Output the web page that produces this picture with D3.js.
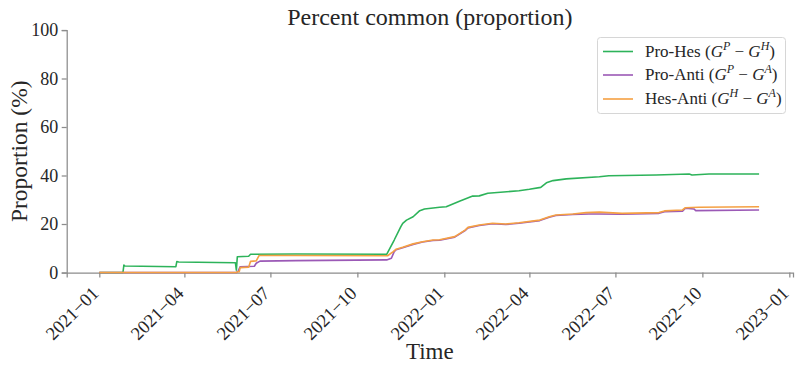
<!DOCTYPE html>
<html>
<head>
<meta charset="utf-8">
<script src="https://cdn.jsdelivr.net/npm/d3@7"></script>
<style>
  html, body { margin: 0; padding: 0; background: #fff; }
  svg { display: block; }
  svg text { font-family: "Liberation Serif", "DejaVu Serif", serif !important; fill: #262626; }
</style>
</head>
<body>
<svg id="chart" width="800" height="370"></svg>
<script>
// ---- data ----
const seriesNames = ["Pro-Hes", "Pro-Anti", "Hes-Anti"];
const seriesSup = [["P", "H"], ["P", "A"], ["H", "A"]];
const seriesColors = ["#2db35a", "#9b59b6", "#f5a043"];

const proHes = [
  ["2021-01-01", 0], ["2021-01-26", 0], ["2021-01-27", 3.1], ["2021-01-28", 2.7],
  ["2021-03-23", 2.4], ["2021-03-24", 4.5], ["2021-03-26", 4.3], ["2021-05-25", 4.0],
  ["2021-05-26", 1.0], ["2021-05-27", 6.5], ["2021-06-08", 6.7], ["2021-06-10", 7.5],
  ["2021-07-28", 7.6], ["2021-11-01", 7.5], ["2021-11-09", 13.4], ["2021-11-16", 18.9],
  ["2021-11-18", 20.3], ["2021-11-22", 21.6], ["2021-11-29", 23.0], ["2021-12-06", 25.5],
  ["2021-12-11", 26.2], ["2021-12-27", 26.9], ["2022-01-03", 27.1], ["2022-01-17", 29.4],
  ["2022-01-31", 31.5], ["2022-02-07", 31.6], ["2022-02-16", 32.7], ["2022-03-21", 33.7],
  ["2022-04-01", 34.3], ["2022-04-13", 35.1], ["2022-04-19", 37.0], ["2022-04-26", 37.9],
  ["2022-05-10", 38.6], ["2022-06-14", 39.5], ["2022-06-24", 39.9], ["2022-08-13", 40.2],
  ["2022-09-17", 40.6], ["2022-09-20", 40.2], ["2022-10-08", 40.6], ["2022-11-30", 40.6]
];
const proAnti = [
  ["2021-01-01", 0], ["2021-05-26", 0], ["2021-05-28", 0.6], ["2021-05-30", 2.4],
  ["2021-06-14", 2.6], ["2021-06-16", 3.8], ["2021-06-20", 4.7], ["2021-07-28", 4.9],
  ["2021-11-01", 5.2], ["2021-11-06", 5.9], ["2021-11-09", 8.6], ["2021-11-11", 9.4],
  ["2021-11-18", 10.2], ["2021-11-29", 11.6], ["2021-12-09", 12.6], ["2021-12-20", 13.2],
  ["2021-12-27", 13.3], ["2022-01-12", 14.6], ["2022-01-23", 17.3], ["2022-01-26", 18.4],
  ["2022-02-07", 19.4], ["2022-02-21", 20.1], ["2022-03-07", 19.8], ["2022-03-21", 20.3],
  ["2022-04-12", 21.4], ["2022-04-22", 22.8], ["2022-04-29", 23.5], ["2022-05-17", 23.9],
  ["2022-06-03", 24.1], ["2022-06-14", 24.1], ["2022-07-08", 24.0], ["2022-08-16", 24.4],
  ["2022-08-22", 25.1], ["2022-09-10", 25.3], ["2022-09-13", 26.5], ["2022-09-22", 26.2],
  ["2022-09-24", 25.5], ["2022-11-30", 25.8]
];
const hesAnti = [
  ["2021-01-01", 0], ["2021-05-26", 0], ["2021-05-27", 0.3], ["2021-05-29", 0.3],
  ["2021-05-30", 2.0], ["2021-06-08", 2.2], ["2021-06-10", 4.6], ["2021-06-16", 4.8],
  ["2021-06-19", 7.0], ["2021-07-28", 7.0], ["2021-11-01", 6.9], ["2021-11-02", 6.9],
  ["2021-11-08", 8.6], ["2021-11-11", 9.6], ["2021-11-18", 10.4], ["2021-11-29", 11.8],
  ["2021-12-09", 12.7], ["2021-12-20", 13.4], ["2021-12-27", 13.5], ["2022-01-12", 14.8],
  ["2022-01-23", 17.5], ["2022-01-26", 18.6], ["2022-02-07", 19.6], ["2022-02-21", 20.3],
  ["2022-03-07", 20.0], ["2022-03-21", 20.5], ["2022-04-12", 21.6], ["2022-04-22", 23.0],
  ["2022-04-29", 23.7], ["2022-05-17", 24.1], ["2022-05-31", 24.7], ["2022-06-14", 24.9],
  ["2022-07-08", 24.4], ["2022-08-16", 24.7], ["2022-08-22", 25.4], ["2022-09-10", 25.8],
  ["2022-09-13", 26.7], ["2022-09-27", 26.9], ["2022-11-30", 27.1]
];
const xTickLabels = ["2021-01", "2021-04", "2021-07", "2021-10", "2022-01", "2022-04", "2022-07", "2022-10", "2023-01"];
const yTickLabels = [0, 20, 40, 60, 80, 100];
const titleText = "Percent common (proportion)";
const xLabelText = "Time";
const yLabelText = "Proportion (%)";

// ---- layout ----
const svg = d3.select("#chart");
const mLeft = 66.7, mRight = 793, mTop = 30, mBottom = 272.5;
const parse = d3.utcParse("%Y-%m-%d");
const parseMonth = d3.utcParse("%Y-%m");

const x = d3.scaleUtc()
  .domain([new Date(Date.UTC(2020, 10, 27, 12)), new Date(Date.UTC(2023, 0, 4, 21))])
  .range([mLeft, mRight]);
const y = d3.scaleLinear().domain([0, 100]).range([mBottom, mTop]);

const axisColor = "#8c8c8c";
const FONT = '"Liberation Serif", "DejaVu Serif", serif';

// x axis
const xAxis = d3.axisBottom(x)
  .tickValues(xTickLabels.map(parseMonth))
  .tickFormat(d => d3.utcFormat("%Y")(d) + "\u2212" + d3.utcFormat("%m")(d))
  .tickSizeOuter(0).tickSize(5);
const gx = svg.append("g").attr("transform", `translate(0,${mBottom})`).call(xAxis)
  .attr("font-family", FONT);
gx.select(".domain").attr("stroke", axisColor).attr("stroke-width", 1.25);
gx.selectAll(".tick line").attr("stroke", axisColor).attr("stroke-width", 1.25);
gx.selectAll(".tick text")
  .attr("font-size", 18.5)
  .attr("fill", "#262626")
  .attr("text-anchor", "end")
  .attr("y", 0).attr("dy", 0)
  .attr("transform", "translate(0,22) rotate(-45)");

// y axis
const yAxis = d3.axisLeft(y).tickValues(yTickLabels).tickFormat(d3.format("d")).tickSizeOuter(0).tickSize(5).tickPadding(3.5);
const gy = svg.append("g").attr("transform", `translate(${mLeft},0)`).call(yAxis)
  .attr("font-family", FONT);
gy.select(".domain").attr("stroke", axisColor).attr("stroke-width", 1.25);
gy.selectAll(".tick line").attr("stroke", axisColor).attr("stroke-width", 1.25);
gy.selectAll(".tick text").attr("font-size", 18).attr("fill", "#262626");

// lines
const line = d3.line().x(d => x(parse(d[0]))).y(d => y(d[1]));
const allSeries = [proHes, proAnti, hesAnti];
allSeries.forEach((s, i) => {
  svg.append("path").datum(s)
    .attr("fill", "none")
    .attr("stroke", seriesColors[i])
    .attr("stroke-width", 1.6)
    .attr("stroke-linejoin", "round")
    .attr("d", line);
});

// title & labels
svg.append("text").attr("x", (mLeft + mRight) / 2).attr("y", 25).attr("font-family", FONT)
  .attr("text-anchor", "middle").attr("font-size", 24).text(titleText);
svg.append("text").attr("x", (mLeft + mRight) / 2).attr("y", 359).attr("font-family", FONT)
  .attr("text-anchor", "middle").attr("font-size", 23).text(xLabelText);
svg.append("text").attr("transform", `translate(27,${(mTop + mBottom) / 2}) rotate(-90)`).attr("font-family", FONT)
  .attr("text-anchor", "middle").attr("font-size", 23.5).text(yLabelText);

// legend
const lg = svg.append("g").attr("font-family", FONT);
lg.append("rect").attr("x", 597.5).attr("y", 37.5).attr("width", 188).attr("height", 76)
  .attr("rx", 3).attr("fill", "#fff").attr("fill-opacity", 0.8)
  .attr("stroke", "#d6d6d6").attr("stroke-width", 1);
const rowY = [51.5, 75, 99];
seriesNames.forEach((name, i) => {
  lg.append("line").attr("x1", 603).attr("x2", 633).attr("y1", rowY[i]).attr("y2", rowY[i])
    .attr("stroke", seriesColors[i]).attr("stroke-width", 1.6);
  const t = lg.append("text").attr("x", 645).attr("y", rowY[i] + 5).attr("font-size", 17);
  t.append("tspan").text(name + " (");
  t.append("tspan").attr("font-style", "italic").text("G");
  t.append("tspan").attr("font-style", "italic").attr("font-size", 12).attr("dy", -7).text(seriesSup[i][0]);
  t.append("tspan").attr("dy", 7).text(" \u2212 ");
  t.append("tspan").attr("font-style", "italic").text("G");
  t.append("tspan").attr("font-style", "italic").attr("font-size", 12).attr("dy", -7).text(seriesSup[i][1]);
  t.append("tspan").attr("dy", 7).text(")");
});
</script>
</body>
</html>
